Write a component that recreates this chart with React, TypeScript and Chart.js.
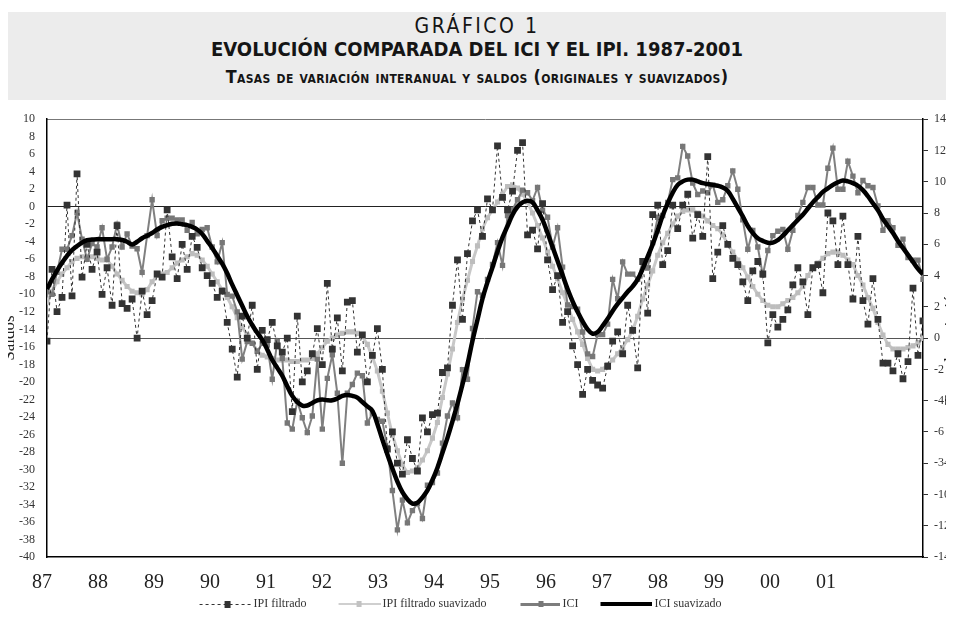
import React, { useEffect, useRef } from 'react';
import { Chart, registerables } from 'chart.js';

Chart.register(...registerables);

// ---------- DATA ----------
const TITLE_1 = 'GRÁFICO 1';
const TITLE_2 = 'EVOLUCIÓN COMPARADA DEL ICI Y EL IPI. 1987-2001';
const TITLE_3 = 'Tasas de variación interanual y saldos (originales y suavizados)';
const LEFT_TITLE = 'Saldos';
const RIGHT_TITLE = 'Tasas de variación';

const SERIES_NAMES = ['IPI filtrado', 'IPI filtrado suavizado', 'ICI', 'ICI suavizado'];

const YEAR_TICKS = [87, 88, 89, 90, 91, 92, 93, 94, 95, 96, 97, 98, 99, 100, 101];
const YEAR_LABELS = ['87', '88', '89', '90', '91', '92', '93', '94', '95', '96', '97', '98', '99', '00', '01'];

const LEFT_TICKS = [10, 8, 6, 4, 2, 0, -2, -4, -6, -8, -10, -12, -14, -16, -18, -20, -22, -24, -26, -28, -30, -32, -34, -36, -38, -40];
const RIGHT_TICKS = [14, 12, 10, 8, 6, 4, 2, 0, -2, -4, -6, -8, -10, -12, -14];
const RIGHT_TICK_LABELS = ['14', '12', '10', '8', '6', '4', '2', '0', '-2', '-4', '-6', '-34', '-10', '-12', '-14'];

// IPI filtrado (right axis, %)
const IPI_FILTRADO = [
  -0.2, 4.4, 1.7, 2.6, 8.5, 2.7, 10.5, 3.9, 6.0, 4.4, 5.5, 2.8,
  4.5, 2.1, 7.2, 2.2, 1.9, 2.5, 0.0, 3.0, 1.5, 2.4, 4.1, 3.9,
  8.2, 5.2, 3.8, 6.0, 4.4, 6.5, 5.8, 4.5, 4.0, 3.5, 2.6, 3.0,
  1.0, -0.7, -2.5, 1.4, 0.0, 2.1, -2.0, 0.5, -0.1, 1.0, -0.5, -0.9,
  0.0, -4.7, 1.4, -2.8, -2.1, -1.0, 0.6, -1.7, 3.5, -0.7, 1.3, -2.1,
  2.3, 2.4, -0.9, 0.2, -2.8, -1.1, 0.6, -2.0, -7.1, -6.0, -8.0, -8.7,
  -6.5, -7.7, -8.5, -5.1, -6.0, -4.9, -4.8, -2.2, -1.9, 2.1, 5.0, 1.2,
  5.4, 7.5, 8.2, 6.5, 8.9, 8.2, 12.3, 9.0, 8.2, 9.4, 12.0, 12.5,
  6.6, 6.9, 5.7, 8.6, 5.0, 3.1, 4.0, 1.0, 1.7, -0.5, -1.7, -3.6,
  -2.0, -2.7, -3.0, -3.2, -1.8, -0.2, 0.4, -1.0, 2.1, 0.5, -1.9, 4.9,
  1.6, 7.9, 8.5, 4.7, 5.6, 8.5, 7.0, 8.5, 9.2, 6.4, 7.9, 6.5,
  11.6, 3.8, 5.5, 7.2, 6.0, 5.1, 4.7, 3.6, 2.4, 4.3, 4.9, 4.1,
  -0.3, 1.5, 0.7, 1.2, 1.8, 3.4, 4.5, 3.6, 1.5, 4.5, 4.7, 2.9,
  8.0, 7.5, 4.7, 7.8, 4.7, 2.5, 6.5, 2.4, 0.9, 3.8, 1.2, -1.6,
  -1.6, -2.1, -1.0, -2.6, -1.5, 3.2, -1.1, 1.1,
];

// IPI filtrado suavizado (right axis, %)
const IPI_SUAVIZADO = [
  2.3, 3.0, 3.6, 4.1, 4.5, 4.9, 5.1, 5.2, 5.2, 5.2, 5.1, 5.0,
  5.0, 4.6, 4.1, 3.7, 3.3, 3.0, 2.9, 2.8, 3.1, 3.6, 4.0, 4.1,
  4.2, 4.5, 4.8, 5.0, 5.2, 5.4, 5.3, 5.0, 4.6, 4.1, 3.6, 3.1,
  2.6, 2.0, 1.3, 0.7, 0.2, -0.3, -0.8, -1.1, -1.2, -1.3, -1.4, -1.4,
  -1.4, -1.5, -1.5, -1.4, -1.4, -1.3, -1.0, -0.6, -0.2, 0.0, 0.2, 0.3,
  0.4, 0.4, 0.3, 0.1, -0.4, -1.2, -2.1, -3.4, -4.8, -6.2, -7.2, -8.1,
  -8.6, -8.5, -8.3, -7.8, -7.2, -6.4, -5.4, -3.8, -2.3, -0.7, 1.0, 2.5,
  3.7, 4.9, 5.9, 7.0, 7.7, 8.2, 8.7, 9.2, 9.7, 9.8, 9.6, 9.2,
  8.7, 8.0, 7.2, 6.4, 5.5, 4.6, 3.8, 2.9, 2.1, 1.2, 0.4, -0.4,
  -1.3, -2.0, -2.1, -2.0, -1.7, -1.4, -1.0, -0.6, -0.1, 0.5, 1.4, 2.5,
  3.4, 4.3, 5.3, 6.1, 6.7, 7.3, 7.8, 8.1, 8.2, 8.2, 8.0, 7.8,
  7.5, 7.2, 7.0, 6.6, 6.0, 5.5, 5.0, 4.5, 3.9, 3.3, 2.8, 2.4,
  2.1, 2.0, 2.0, 2.2, 2.4, 2.6, 2.9, 3.3, 4.0, 4.5, 4.8, 5.1,
  5.4, 5.5, 5.5, 5.3, 5.0, 4.7, 4.0, 3.4, 2.6, 1.9, 1.0, 0.2,
  -0.4, -0.7, -0.7, -0.7, -0.6, -0.5, -0.3, 0.0,
];

// ICI (left axis, saldos)
const ICI = [
  -9.7, -10.0, -7.5, -4.85, -4.85, -3.3, -0.66, -3.7, -6.0, -4.2, -4.6, -2.4,
  -6.0, -4.6, -2.0, -4.6, -3.1, -4.5, -4.8, -7.5, -3.3, 0.8, -3.3, -1.6,
  -1.3, -1.3, -1.5, -1.5, -2.7, -1.8, -3.1, -2.6, -2.4, -4.6, -6.3, -4.1,
  -10.0, -10.2, -12.0, -17.4, -15.4, -15.6, -16.5, -15.6, -15.8, -19.7, -15.4, -17.3,
  -24.7, -25.4, -22.2, -24.1, -25.8, -23.9, -17.4, -25.4, -19.6, -16.9, -21.3, -29.3,
  -21.3, -20.3, -19.0, -19.3, -24.7, -23.6, -24.3, -24.5, -27.5, -32.4, -36.9, -33.5,
  -36.1, -34.7, -33.9, -35.6, -31.8, -31.5, -30.4, -27.0, -23.9, -22.4, -24.1, -18.6,
  -19.7, -13.9, -9.7, -10.1, -8.3, -6.6, -4.1, -6.7, -1.0, -0.3, 0.8, 1.9,
  1.6, 0.7, 2.2, -0.4, -1.2, -4.6, -2.4, -6.9, -11.2, -11.4, -11.7, -14.3,
  -16.8, -17.1, -14.6, -14.6, -13.4, -8.3, -10.5, -6.3, -7.7, -7.7, -8.3, -6.3,
  -7.0, -4.1, -1.2, -1.0, 0.5, 3.1, 3.3, 6.9, 5.8, 2.7, 1.4, 1.8,
  1.6, 2.5, 0.5, 0.8, 2.4, 4.1, 2.0, -1.5, -4.85, -2.7, -4.6, -7.8,
  -5.0, -3.3, -2.8, -2.6, -4.85, -2.7, -1.0, 0.5, 2.2, 2.2, 0.2, 0.2,
  4.4, 6.7, 2.0, 2.0, 5.2, 3.5, 1.6, 3.0, 2.4, 2.2, 0.1, -2.7,
  -1.6, -2.4, -4.4, -3.7, -5.8, -6.1, -6.1, -8.3,
];

// ICI suavizado (left axis, saldos)
const ICI_SUAVIZADO = [
  -9.4, -8.3, -7.3, -6.4, -5.6, -4.95, -4.5, -4.1, -3.8, -3.75, -3.7, -3.7,
  -3.7, -3.7, -3.7, -3.8, -4.0, -4.3, -4.0, -3.6, -3.3, -3.0, -2.6, -2.3,
  -2.1, -1.95, -1.9, -2.0, -2.1, -2.3, -2.6, -3.1, -3.9, -4.7, -5.6, -6.5,
  -7.6, -8.9, -10.1, -11.3, -12.5, -13.5, -14.4, -15.2, -16.3, -17.5, -18.4, -19.3,
  -20.5, -21.6, -22.3, -22.7, -22.7, -22.4, -22.1, -22.0, -22.1, -22.1, -21.9, -21.6,
  -21.5, -21.6, -21.8, -22.3, -22.8, -23.3, -24.8, -26.6, -28.3, -29.9, -31.4, -32.6,
  -33.4, -33.9, -33.8, -33.2, -32.4, -31.2, -29.8, -28.1, -26.4, -24.5, -22.5, -20.3,
  -18.0, -15.3, -12.9, -10.5, -8.6, -6.9, -5.1, -3.5, -2.2, -0.9, 0.0, 0.5,
  0.7, 0.5, -0.4, -1.5, -3.0, -4.6, -6.2, -7.8, -9.4, -10.8, -12.0, -13.1,
  -14.0, -14.5, -14.3, -13.6, -12.8, -11.9, -11.1, -10.4, -9.7, -9.1, -8.3, -7.1,
  -5.7, -4.3, -2.7, -1.0, 0.4, 1.6, 2.5, 2.9, 3.1, 3.1, 2.9, 2.7,
  2.6, 2.5, 2.4, 2.2, 1.8, 0.9, -0.1, -1.1, -2.2, -3.0, -3.6, -3.9,
  -4.1, -4.1, -3.8, -3.3, -2.7, -2.1, -1.5, -0.9, -0.2, 0.5, 1.1, 1.7,
  2.1, 2.5, 2.8, 3.0, 2.9, 2.7, 2.4, 1.9, 1.2, 0.4, -0.4, -1.4,
  -2.2, -3.0, -3.9, -4.7, -5.5, -6.3, -7.1, -7.7,
];

const FONT_SERIF = "'Liberation Serif', 'DejaVu Serif', serif";
const FONT_TITLE = "'DejaVu Sans Condensed', 'Liberation Sans Narrow', 'Roboto', sans-serif";

function toPoints(values: number[]) {
  return values.map((v, i) => ({ x: i, y: v }));
}

const CANVAS_SHIFT = 45; // canvas starts this many px left of the page
const LEGEND_BOX = 60;
const LEGEND_IMG = 68;

function makeLegendImage(kind: number): HTMLCanvasElement {
  const c = document.createElement('canvas');
  c.width = LEGEND_IMG;
  c.height = 10;
  const g = c.getContext('2d')!;
  const mid = 5;
  const line = (len: number, color: string, w: number, dash: number[] = []) => {
    g.save();
    g.strokeStyle = color;
    g.lineWidth = w;
    g.setLineDash(dash);
    const y = w % 2 ? mid + 0.5 : mid;
    g.beginPath();
    g.moveTo(LEGEND_IMG - len, y);
    g.lineTo(LEGEND_IMG, y);
    g.stroke();
    g.restore();
  };
  if (kind === 0) {
    line(52, '#333', 1, [3, 3]);
    g.fillStyle = '#333';
    g.fillRect(LEGEND_IMG - 27, 2, 6, 7);
  } else if (kind === 1) {
    line(42, '#cfcfcf', 2);
    g.fillStyle = '#c2c2c2';
    g.fillRect(LEGEND_IMG - 24, 2, 5, 6);
  } else if (kind === 2) {
    line(40, '#7d7d7d', 3);
    g.fillStyle = '#777';
    g.fillRect(LEGEND_IMG - 22, 2, 5, 6);
  } else {
    line(52, '#000', 4);
  }
  return c;
}

const axisTitlePlugin = {
  id: 'axisTitles',
  afterDraw(chart: any) {
    const { ctx, chartArea } = chart;
    const cy = (chartArea.top + chartArea.bottom) / 2;
    ctx.save();
    ctx.fillStyle = '#222';
    ctx.textAlign = 'center';
    ctx.textBaseline = 'alphabetic';
    ctx.save();
    ctx.font = `17px ${FONT_SERIF}`;
    ctx.translate(chartArea.left - 33, cy);
    ctx.rotate(-Math.PI / 2);
    ctx.fillText(LEFT_TITLE, 0, 0);
    ctx.restore();
    ctx.save();
    ctx.font = `16px ${FONT_SERIF}`;
    ctx.translate(chart.width + 2, cy + 8);
    ctx.rotate(-Math.PI / 2);
    ctx.fillText(RIGHT_TITLE, 0, 0);
    ctx.restore();
    ctx.restore();
  },
};

export default function App() {
  const ref = useRef<HTMLCanvasElement>(null);

  useEffect(() => {
    if (!ref.current) return;
    const legendImages = [0, 1, 2, 3].map(makeLegendImage);
    const n = ICI.length;
    const chart = new Chart(ref.current, {
      type: 'line',
      data: {
        datasets: [
          {
            label: SERIES_NAMES[0],
            data: toPoints(IPI_FILTRADO),
            yAxisID: 'y1',
            borderColor: '#333',
            borderWidth: 1,
            borderDash: [3, 3],
            pointStyle: 'rect',
            pointRadius: 4.8,
            pointBackgroundColor: '#333',
            pointBorderWidth: 0,
            order: 1,
          },
          {
            label: SERIES_NAMES[1],
            data: toPoints(IPI_SUAVIZADO),
            yAxisID: 'y1',
            borderColor: '#c8c8c8',
            borderWidth: 3,
            pointStyle: 'rect',
            pointRadius: 3.6,
            pointBackgroundColor: '#bdbdbd',
            pointBorderWidth: 0,
            order: 3,
          },
          {
            label: SERIES_NAMES[2],
            data: toPoints(ICI),
            yAxisID: 'y',
            borderColor: '#808080',
            borderWidth: 2,
            pointStyle: 'rect',
            pointRadius: 3.8,
            pointBackgroundColor: '#777',
            pointBorderWidth: 0,
            order: 2,
          },
          {
            label: SERIES_NAMES[3],
            data: toPoints(ICI_SUAVIZADO),
            yAxisID: 'y',
            borderColor: '#000',
            borderWidth: 4.5,
            pointRadius: 0,
            tension: 0.4,
            order: 0,
          },
        ],
      },
      options: {
        animation: false,
        responsive: false,
        events: [],
        layout: { padding: { top: 16, left: 0, right: 0, bottom: 0 } },
        plugins: {
          tooltip: { enabled: false },
          title: { display: false },
          legend: {
            display: true,
            position: 'bottom',
            labels: {
              usePointStyle: true,
              pointStyleWidth: LEGEND_BOX,
              boxHeight: 10,
              padding: 10,
              color: '#333',
              font: { family: FONT_SERIF, size: 12 },
              generateLabels: (ch: any) =>
                ch.data.datasets.map((ds: any, i: number) => ({
                  text: ds.label,
                  pointStyle: legendImages[i],
                  fillStyle: 'rgba(0,0,0,0)',
                  strokeStyle: 'rgba(0,0,0,0)',
                  lineWidth: 0,
                  hidden: false,
                  datasetIndex: i,
                  fontColor: '#333',
                })),
            },
          },
        },
        scales: {
          x: {
            type: 'linear',
            position: 'top',
            min: 0,
            max: n - 1,
            ticks: { display: false },
            grid: { display: false, drawTicks: false },
            border: { display: true, color: '#777', width: 1 },
            afterFit: (s: any) => {
              s.height = 0;
            },
          },
          x2: {
            type: 'linear',
            position: 'bottom',
            min: YEAR_TICKS[0],
            max: YEAR_TICKS[0] + 876 / 56,
            afterBuildTicks: (s: any) => {
              s.ticks = YEAR_TICKS.map((v) => ({ value: v }));
            },
            ticks: {
              autoSkip: false,
              maxRotation: 0,
              labelOffset: -5,
              padding: 14,
              color: '#222',
              font: { family: FONT_SERIF, size: 20 },
              callback: (_v: any, i: number) => YEAR_LABELS[i],
            },
            grid: { drawOnChartArea: false, drawTicks: false },
            border: { display: true, color: '#000', width: 1.5 },
            afterFit: (s: any) => {
              s.height = 31;
            },
          },
          y: {
            type: 'linear',
            position: 'left',
            min: -40,
            max: 10,
            afterBuildTicks: (s: any) => {
              s.ticks = LEFT_TICKS.map((v) => ({ value: v }));
            },
            ticks: {
              autoSkip: false,
              padding: 12,
              color: '#333',
              font: { family: FONT_SERIF, size: 12 },
              callback: (v: any) => String(v),
            },
            grid: {
              drawTicks: false,
              lineWidth: 1,
              color: (c: any) => (c.tick && c.tick.value === 0 ? '#222' : 'rgba(0,0,0,0)'),
            },
            border: { display: true, color: '#000', width: 1.5 },
            afterFit: (s: any) => {
              s.width = 47 + CANVAS_SHIFT;
            },
          },
          y1: {
            type: 'linear',
            position: 'right',
            min: -14,
            max: 14,
            afterBuildTicks: (s: any) => {
              s.ticks = RIGHT_TICKS.map((v) => ({ value: v }));
            },
            ticks: {
              autoSkip: false,
              padding: 6,
              color: '#333',
              font: { family: FONT_SERIF, size: 12 },
              callback: (v: any) => RIGHT_TICK_LABELS[RIGHT_TICKS.indexOf(v)],
            },
            grid: {
              drawTicks: true,
              tickLength: 5,
              tickColor: '#333',
              lineWidth: 1,
              color: (c: any) => (c.tick && c.tick.value === 0 ? '#555' : 'rgba(0,0,0,0)'),
            },
            border: { display: true, color: '#000', width: 1.5 },
            afterFit: (s: any) => {
              s.width = 31;
            },
          },
        },
      },
      plugins: [axisTitlePlugin],
    } as any);
    return () => chart.destroy();
  }, []);

  const lineBase: React.CSSProperties = {
    position: 'absolute',
    left: 0,
    width: '100%',
    textAlign: 'center',
    color: '#151515',
    fontFamily: FONT_TITLE,
    whiteSpace: 'nowrap',
  };

  return (
    <div style={{ position: 'relative', marginLeft: -8, width: 954, height: 604, overflow: 'hidden' }}>
      <div style={{ position: 'absolute', left: 8, top: 4, width: 938, height: 88, background: '#ececec' }}>
        <div style={{ ...lineBase, top: 2, height: 24, lineHeight: '24px', fontSize: 21, fontWeight: 300, letterSpacing: 2.5 }}>{TITLE_1}</div>
        <div style={{ ...lineBase, top: 25, height: 24, lineHeight: '24px', fontSize: 20, fontWeight: 700 }}>{TITLE_2}</div>
        <div style={{ ...lineBase, top: 53, height: 24, lineHeight: '24px', fontSize: 17.8, fontWeight: 700, fontVariant: 'small-caps', letterSpacing: 0.37 }}>{TITLE_3}</div>
      </div>
      <canvas
        ref={ref}
        width={954 + CANVAS_SHIFT}
        height={520}
        style={{ position: 'absolute', left: -CANVAS_SHIFT, top: 92, width: 954 + CANVAS_SHIFT, height: 520, display: 'block' }}
      />
    </div>
  );
}
